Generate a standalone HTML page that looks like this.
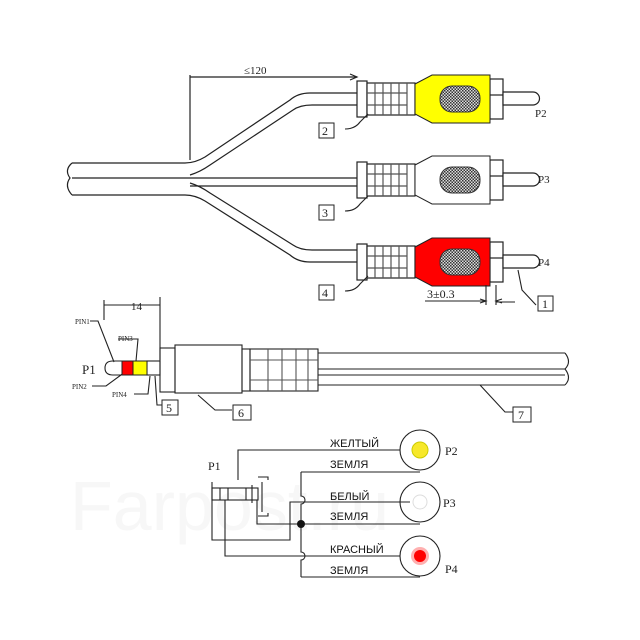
<!DOCTYPE html>
<html><head><meta charset="utf-8"><style>
body{margin:0;background:#fff}
svg{display:block}
text{font-family:"Liberation Serif",serif;fill:#222}
.s{font-family:"Liberation Sans","Noto Sans CJK SC",sans-serif;font-size:11px;fill:#111}
</style></head><body>
<svg width="640" height="640" viewBox="0 0 640 640" xmlns="http://www.w3.org/2000/svg">
<defs>
<pattern id="mesh" width="3" height="3" patternUnits="userSpaceOnUse"><rect width="3" height="3" fill="#ddd"/><rect width="1.5" height="1.5" fill="#333"/><rect x="1.5" y="1.5" width="1.5" height="1.5" fill="#333"/></pattern>
<g id="plugbase" stroke="#222" stroke-width="1.2" fill="#fff">
<rect x="357" y="-18" width="10" height="36"/>
<rect x="367" y="-16" width="48" height="32"/>
<path d="M375-16V16M383-16V16M391-16V16M399-16V16M407-16V16M367-6H407M367 6H407" fill="none" stroke="#555"/>
<rect x="490" y="-20" width="13" height="40"/>
<path d="M490 -4H503" fill="none"/>
<path d="M503-7H533a6.5 6.5 0 0 1 0 13H503z"/>
</g>
</defs>
<text x="70" y="530" font-size="70" style="font-family:'Liberation Sans',sans-serif;fill:#f7f7f7">Farpost.ru</text>
<g fill="none" stroke="#222" stroke-width="1.2">
<path d="M72 163H185Q195 163 205 157L290 100Q298 93 310 93H357"/>
<path d="M72 195H185Q195 195 205 201L290 255Q298 262 310 262H357"/>
<path d="M72 178H357"/>
<path d="M190 175Q200 172 210 165L293 110Q300 105 312 105H357"/>
<path d="M190 186H357"/>
<path d="M190 183Q200 186 210 193L293 245Q300 250 312 250H357"/>
<path d="M72 163Q64 170 70 178Q64 186 72 195"/>
<path d="M190 75V160M190 77H357"/>
<path d="M350 74L357 77L350 80"/>
</g>
<text x="244" y="74" font-size="11">≤120</text>
<g transform="translate(0,99)"><use href="#plugbase"/><path d="M415-15L432-24H490V24H432L415 15z" fill="#ffff00" stroke="#222"/><rect x="440" y="-13" width="40" height="26" rx="12" fill="url(#mesh)" stroke="#333"/></g>
<g transform="translate(0,180)"><use href="#plugbase"/><path d="M415-15L432-24H490V24H432L415 15z" fill="#fff" stroke="#222"/><rect x="440" y="-13" width="40" height="26" rx="12" fill="url(#mesh)" stroke="#333"/></g>
<g transform="translate(0,262)"><use href="#plugbase"/><path d="M415-15L432-24H490V24H432L415 15z" fill="#ff0000" stroke="#222"/><rect x="440" y="-13" width="40" height="26" rx="12" fill="url(#mesh)" stroke="#333"/></g>
<text x="535" y="117" font-size="11">P2</text>
<text x="538" y="183" font-size="11">P3</text>
<text x="538" y="266" font-size="11">P4</text>
<g fill="#fff" stroke="#222">
<rect x="319" y="123" width="15" height="15"/><rect x="319" y="205" width="15" height="15"/><rect x="319" y="285" width="15" height="15"/><rect x="538" y="296" width="15" height="15"/>
<rect x="162" y="400" width="16" height="15"/><rect x="233" y="405" width="18" height="15"/><rect x="513" y="407" width="18" height="15"/>
</g>
<g font-size="12"><text x="322" y="135">2</text><text x="322" y="217">3</text><text x="322" y="297">4</text><text x="542" y="308">1</text><text x="166" y="412">5</text><text x="238" y="417">6</text><text x="518" y="419">7</text></g>
<text x="427" y="298" font-size="12">3±0.3</text>
<g fill="none" stroke="#222" stroke-width="1.1">
<path d="M345 129Q355 129 360 122L368 114"/><path d="M345 211Q355 211 360 204L368 196"/><path d="M345 291Q355 291 360 284L368 276"/>
<path d="M536 305L522 290L518 270"/>
<path d="M425 301H486M486 285V305M496 285V305M496 302H515"/><path d="M480 299L486 301L480 303"/><path d="M502 299L496 301L502 303"/>
<path d="M104 305H160M104 300V320M160 297V360"/>
<path d="M122 361H113Q105 361 105 368Q105 375 113 375H122"/>
<rect x="147" y="361" width="13" height="14"/>
<rect x="160" y="348" width="15" height="44"/>
<rect x="175" y="345" width="67" height="48"/>
<rect x="242" y="349" width="8" height="42"/><rect x="250" y="349" width="68" height="42"/>
<path d="M268 349V391M282 349V391M296 349V391M308 349V391M250 360H318M250 380H318" stroke="#555"/>
<path d="M318 353H565M318 385H565M318 369H565M318 375H565"/>
<path d="M565 353Q572 362 565 369Q572 378 565 385"/>
<path d="M90 321H98L114 362M118 339H138L136 361M92 386H106L125 372M134 394H148L150 376M155 376L157 405H162M198 395L215 410H232M480 385L505 412H513"/>
</g>
<rect x="122" y="361" width="11" height="14" fill="#ff0000" stroke="#222"/>
<rect x="133" y="361" width="14" height="14" fill="#ffff00" stroke="#222"/>
<text x="131" y="310" font-size="11">14</text>
<g font-size="7"><text x="75" y="324">PIN1</text><text x="118" y="341">PIN3</text><text x="72" y="389">PIN2</text><text x="112" y="397">PIN4</text></g>
<text x="82" y="374" font-size="13">P1</text>
<g fill="none" stroke="#222" stroke-width="1.1">
<circle cx="420" cy="450" r="20"/><circle cx="420" cy="502" r="20"/><circle cx="420" cy="556" r="20"/>
<path d="M238 480V450H400"/>
<path d="M301 472H420M301 524H420M301 577H420"/>
<path d="M301 472V496a4 4 0 0 1 0 8V552a4 4 0 0 1 0 8V577"/>
<path d="M212 482V540H290V502H410"/>
<path d="M225 500V556H400"/>
<path d="M257 500V524H301"/>
<path d="M258 477H268V480M258 516H268V513M262 482V512"/>
<rect x="212" y="488" width="46" height="12"/>
<path d="M220 488V500M228 488V500M246 488V500M252 485V503"/>
</g>
<circle cx="301" cy="524" r="4" fill="#111"/>
<circle cx="420" cy="450" r="8" fill="#f7e82a" stroke="#cc0" stroke-width="1"/>
<circle cx="420" cy="502" r="7" fill="#fff" stroke="#ddd"/>
<circle cx="420" cy="556" r="9" fill="#ffb0b0"/><circle cx="420" cy="556" r="6" fill="#ff0000"/>
<text x="208" y="470" font-size="12">P1</text>
<text x="445" y="455" font-size="12">P2</text><text x="443" y="507" font-size="12">P3</text><text x="445" y="573" font-size="12">P4</text>
<text class="s" x="330" y="447">ЖЕЛТЫЙ</text>
<text class="s" x="330" y="468">ЗЕМЛЯ</text>
<text class="s" x="330" y="500">БЕЛЫЙ</text>
<text class="s" x="330" y="520">ЗЕМЛЯ</text>
<text class="s" x="330" y="553">КРАСНЫЙ</text>
<text class="s" x="330" y="574">ЗЕМЛЯ</text>
</svg>
</body></html>
